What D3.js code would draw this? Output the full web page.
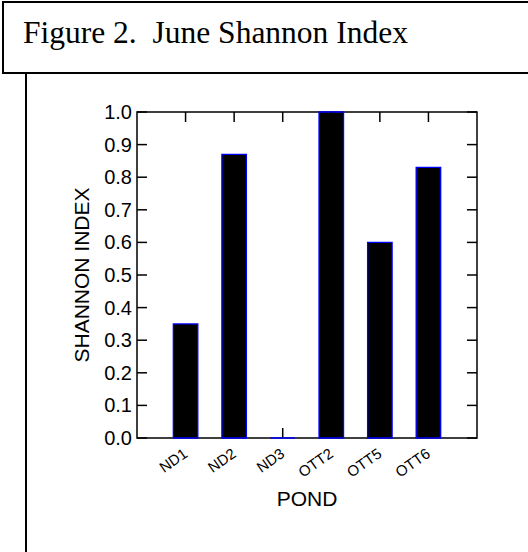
<!DOCTYPE html>
<html>
<head>
<meta charset="utf-8">
<script src="https://cdn.jsdelivr.net/npm/d3@7"></script>
<style>
  body { margin: 0; background: #fff; }
  svg { display: block; }
</style>
</head>
<body>
<svg width="528" height="552"></svg>
<script>
// data
var ponds = ["ND1", "ND2", "ND3", "OTT2", "OTT5", "OTT6"];
var shannon = [0.35, 0.87, 0.0, 1.0, 0.60, 0.83];
var yTicks = [0, 0.1, 0.2, 0.3, 0.4, 0.5, 0.6, 0.7, 0.8, 0.9, 1.0];

var svg = d3.select("svg");

// caption box at the top
svg.append("rect")
    .attr("x", 3).attr("y", 2)
    .attr("width", 540).attr("height", 71)
    .attr("fill", "none").attr("stroke", "#000").attr("stroke-width", 2);
svg.append("line")
    .attr("x1", 26).attr("x2", 26).attr("y1", 73).attr("y2", 560)
    .attr("stroke", "#000").attr("stroke-width", 2);
svg.append("text")
    .attr("x", 23).attr("y", 43)
    .attr("xml:space", "preserve")
    .style("white-space", "pre")
    .attr("font-family", "Liberation Serif, Times New Roman, serif")
    .attr("font-size", 31.5)
    .text("Figure 2.  June Shannon Index");

// plot area
var pLeft = 137, pRight = 477, pTop = 112, pBottom = 438;

var x = d3.scalePoint().domain(ponds).range([pLeft, pRight]).padding(1);
var y = d3.scaleLinear().domain([0, 1]).range([pBottom, pTop]);
var barW = 24.5;

var g = svg.append("g");

// bottom inside ticks (drawn under the bars)
g.selectAll(".bt").data(ponds).enter().append("line")
    .attr("x1", function(d){ return x(d); }).attr("x2", function(d){ return x(d); })
    .attr("y1", pBottom).attr("y2", pBottom - 10)
    .attr("stroke", "#000").attr("stroke-width", 1.5);

// frame
g.append("rect")
    .attr("x", pLeft).attr("y", pTop)
    .attr("width", pRight - pLeft).attr("height", pBottom - pTop)
    .attr("fill", "none").attr("stroke", "#000").attr("stroke-width", 1.5);

// bars as paths so a zero value still shows its outline
g.selectAll(".bar").data(shannon).enter().append("path")
    .attr("d", function(d, i){
        var x0 = x(ponds[i]) - barW / 2, x1 = x0 + barW;
        return "M" + x0 + "," + pBottom + "H" + x1 + "V" + y(d) + "H" + x0 + "Z";
    })
    .attr("fill", "#000")
    .attr("stroke", "#0000ff").attr("stroke-width", 1.3);

// left axis labels
var yAxis = d3.axisLeft(y).tickValues(yTicks).tickFormat(d3.format(".1f")).tickSize(0).tickPadding(5);
var ya = g.append("g").attr("transform", "translate(" + pLeft + ",0)").call(yAxis);
ya.select(".domain").remove();
ya.selectAll("text")
    .attr("font-family", "Liberation Sans, Arial, sans-serif")
    .attr("font-size", 20).attr("fill", "#000");

// y ticks inside, left and right
g.selectAll(".yl").data(yTicks).enter().append("line")
    .attr("x1", pLeft).attr("x2", pLeft + 10)
    .attr("y1", function(d){ return y(d); }).attr("y2", function(d){ return y(d); })
    .attr("stroke", "#000").attr("stroke-width", 1.5);
g.selectAll(".yr").data(yTicks).enter().append("line")
    .attr("x1", pRight).attr("x2", pRight - 10)
    .attr("y1", function(d){ return y(d); }).attr("y2", function(d){ return y(d); })
    .attr("stroke", "#000").attr("stroke-width", 1.5);

// top inside ticks
g.selectAll(".tt").data(ponds).enter().append("line")
    .attr("x1", function(d){ return x(d); }).attr("x2", function(d){ return x(d); })
    .attr("y1", pTop).attr("y2", pTop + 10)
    .attr("stroke", "#000").attr("stroke-width", 1.5);

// category labels, rotated
g.selectAll(".xl").data(ponds).enter().append("text")
    .attr("transform", function(d){ return "translate(" + (x(d) + 3) + "," + (pBottom + 18) + ") rotate(-35)"; })
    .attr("text-anchor", "end")
    .attr("font-family", "Liberation Sans, Arial, sans-serif")
    .attr("font-size", 15)
    .text(function(d){ return d; });

// axis titles
svg.append("text")
    .attr("x", (pLeft + pRight) / 2).attr("y", 506)
    .attr("text-anchor", "middle")
    .attr("font-family", "Liberation Sans, Arial, sans-serif")
    .attr("font-size", 21)
    .text("POND");
svg.append("text")
    .attr("transform", "translate(89," + ((pTop + pBottom) / 2) + ") rotate(-90)")
    .attr("text-anchor", "middle")
    .attr("font-family", "Liberation Sans, Arial, sans-serif")
    .attr("font-size", 21)
    .text("SHANNON INDEX");
</script>
</body>
</html>
